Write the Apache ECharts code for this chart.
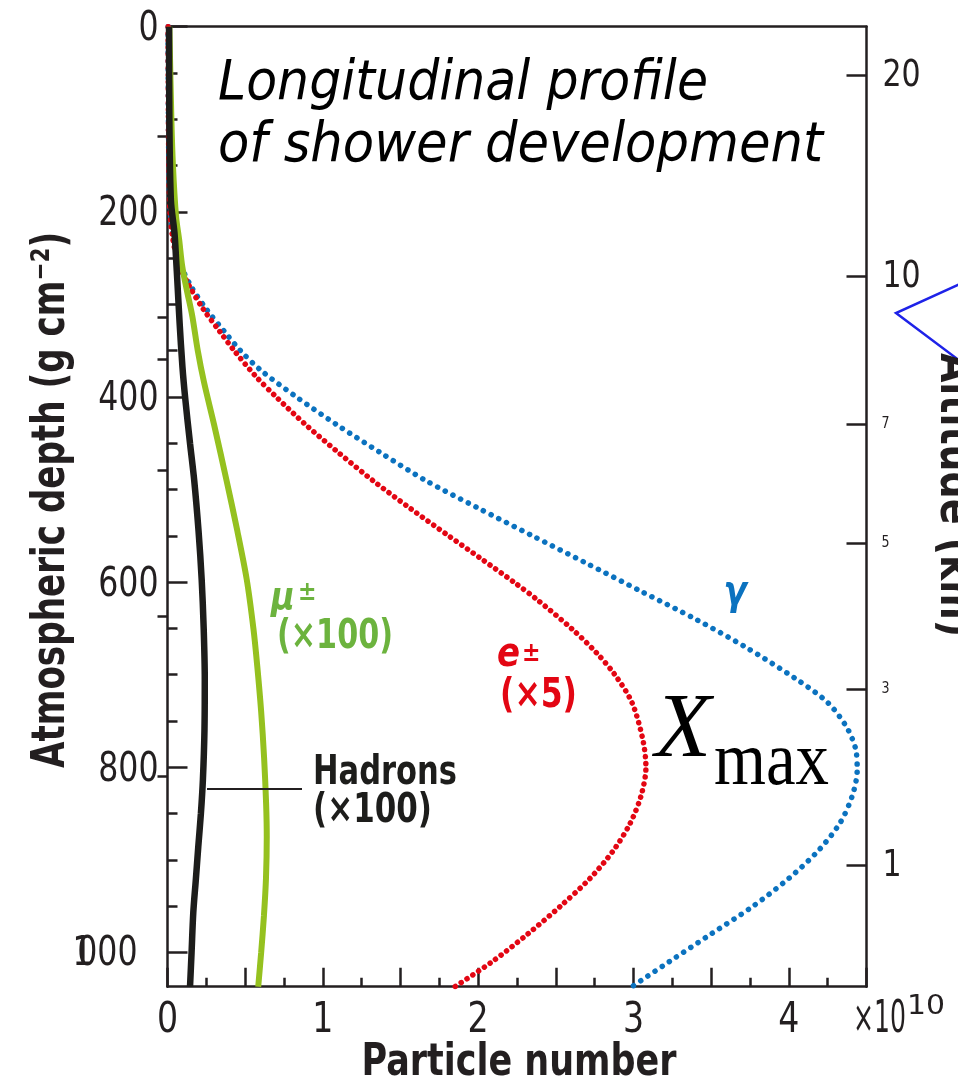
<!DOCTYPE html>
<html><head><meta charset="utf-8">
<script src="https://cdn.jsdelivr.net/npm/echarts@6/dist/echarts.min.js"></script>
<style>html,body{margin:0;padding:0;background:#fff}#c{width:958px;height:1086px}</style>
</head><body><div id="c"></div>
<script>
// ---------------- data (particle number in units of 1e10, depth in g cm^-2) ----------------
const gammaDepth = [0, 100, 150, 200, 230, 255, 280, 305, 330, 350, 371, 400, 430, 460, 490, 520, 550, 579, 610, 640, 670, 705, 730, 756, 780, 803, 830, 860, 890, 920, 950, 980, 1010, 1037];
const gammaCount = [0.004, 0.006, 0.009, 0.018, 0.04, 0.08, 0.15, 0.25, 0.37, 0.47, 0.60, 0.83, 1.09, 1.37, 1.66, 2.00, 2.35, 2.69, 3.05, 3.40, 3.72, 4.05, 4.25, 4.37, 4.43, 4.44, 4.41, 4.33, 4.19, 4.00, 3.77, 3.50, 3.23, 2.99];

const electronDepth = [0, 100, 150, 200, 230, 255, 280, 305, 330, 350, 378, 400, 430, 460, 490, 520, 550, 576, 600, 619, 650, 676, 700, 730, 770, 800, 830, 860, 890, 920, 950, 980, 1010, 1037];
const electronCount = [0.004, 0.006, 0.009, 0.016, 0.035, 0.07, 0.14, 0.23, 0.34, 0.43, 0.57, 0.70, 0.89, 1.10, 1.32, 1.56, 1.81, 2.03, 2.23, 2.38, 2.60, 2.76, 2.88, 2.99, 3.06, 3.08, 3.05, 2.98, 2.87, 2.72, 2.53, 2.32, 2.09, 1.85];

const muonDepth = [0, 100, 150, 205, 230, 259, 285, 313, 350, 384, 430, 490, 545, 597, 650, 691, 740, 790, 840, 875, 920, 960, 1000, 1037];
const muonCount = [0.012, 0.025, 0.035, 0.055, 0.075, 0.095, 0.125, 0.16, 0.195, 0.235, 0.30, 0.38, 0.45, 0.51, 0.553, 0.578, 0.603, 0.622, 0.635, 0.639, 0.634, 0.621, 0.603, 0.584];

const hadronDepth = [0, 100, 188, 223, 250, 277, 320, 367, 403, 450, 490, 545, 597, 650, 705, 760, 813, 850, 886, 920, 957, 1000, 1037];
const hadronCount = [0.01, 0.012, 0.022, 0.045, 0.055, 0.064, 0.078, 0.096, 0.115, 0.145, 0.172, 0.200, 0.220, 0.233, 0.240, 0.238, 0.228, 0.215, 0.198, 0.183, 0.166, 0.155, 0.145];

const depthTicks = [0, 200, 400, 600, 800, 1000];
const depthTickLabels = ['0', '200', '400', '600', '800', '1000'];
const depthMinorTicks = [50, 100, 150, 250, 300, 350, 450, 500, 550, 650, 700, 750, 850, 900, 950];
const countTicks = [0, 1, 2, 3, 4];
const countTickLabels = ['0', '1', '2', '3', '4'];
const altitudeLargeLabels = ['20', '10', '1'];
const altitudeLargeDepth = [52.2, 269.2, 905.3];
const altitudeSmallLabels = ['7', '5', '3'];
const altitudeSmallDepth = [429.0, 558.0, 715.6];
const altitudeMinorDepth = [118.0, 313.8, 359.2, 479.0, 637.1, 809.9];
const DEPTH_MAX = 1037;
const COUNT_MAX = 4.5;

// ---------------- helpers ----------------
const zip = (d, v) => d.map((y, i) => [v[i], y]);
const SANS = '"DejaVu Sans", "Verdana", sans-serif';
const SERIF = '"Liberation Serif", "Times New Roman", serif';
const AXIS = '#231f20';
const mctx = document.createElement('canvas').getContext('2d');
function fit(text, font, width) { mctx.font = font; return width / mctx.measureText(text).width; }
function txt(text, font, x, y, fill, opts) {
  opts = opts || {};
  const align = opts.align || 'left', va = opts.va || 'middle';
  return {
    type: 'text', x: x, y: y, z: 100,
    rotation: opts.rotation || 0,
    scaleX: opts.width ? fit(text, font, opts.width) : (opts.scaleX || 1),
    style: { text: text, font: font, fill: fill, align: align, textAlign: align, verticalAlign: va, textVerticalAlign: va }
  };
}
const SQ = 0.79; // horizontal squeeze of the figure's lettering

const lineAxisStyle = { color: AXIS, width: 2.5 };

function labelSeries(data, render) {
  return { type: 'custom', coordinateSystem: 'cartesian2d', xAxisIndex: 0, yAxisIndex: 0, data: data, renderItem: render, silent: true, clip: false, z: 20 };
}
function tickText(text, font, x, y, align) {
  return { type: 'text', x: x, y: y, scaleX: SQ, style: { text: text, font: font, fill: AXIS, align: align, textAlign: align, verticalAlign: 'middle', textVerticalAlign: 'middle' } };
}

const chart = echarts.init(document.getElementById('c'), null, { renderer: 'canvas' });

const curve = { type: 'line', showSymbol: false, smooth: 0.3 };

const option = {
  backgroundColor: '#ffffff',
  animation: false,
  grid: { left: 167.5, top: 26.7, right: 91.5, bottom: 99.3 },
  xAxis: [
    { type: 'value', min: 0, max: COUNT_MAX, interval: 0.5, position: 'bottom',
      axisLine: { show: true, onZero: false, lineStyle: lineAxisStyle },
      axisTick: { show: true, inside: true, length: 19, lineStyle: lineAxisStyle },
      minorTick: { show: true, splitNumber: 2, length: 9, lineStyle: lineAxisStyle },
      axisLabel: { show: false }, splitLine: { show: false } },
    { type: 'value', min: 0, max: COUNT_MAX, position: 'top',
      axisLine: { show: true, onZero: false, lineStyle: lineAxisStyle },
      axisTick: { show: false }, axisLabel: { show: false }, splitLine: { show: false } }
  ],
  yAxis: [
    { type: 'value', inverse: true, min: 0, max: DEPTH_MAX, position: 'left',
      axisLine: { show: true, onZero: false, lineStyle: lineAxisStyle },
      axisTick: { show: true, inside: true, length: 20, customValues: depthTicks, lineStyle: lineAxisStyle },
      axisLabel: { show: false }, splitLine: { show: false } },
    { type: 'value', inverse: true, min: 0, max: DEPTH_MAX, position: 'left',
      axisLine: { show: false },
      axisTick: { show: true, inside: true, length: 10, customValues: depthMinorTicks, lineStyle: lineAxisStyle },
      axisLabel: { show: false }, splitLine: { show: false } },
    { type: 'value', inverse: true, min: 0, max: DEPTH_MAX, position: 'right',
      axisLine: { show: true, onZero: false, lineStyle: lineAxisStyle },
      axisTick: { show: true, inside: true, length: 20, customValues: altitudeLargeDepth.concat(altitudeSmallDepth), lineStyle: lineAxisStyle },
      axisLabel: { show: false }, splitLine: { show: false } },
    { type: 'value', inverse: true, min: 0, max: DEPTH_MAX, position: 'right',
      axisLine: { show: false },
      axisTick: { show: true, inside: true, length: 10, customValues: altitudeMinorDepth, lineStyle: lineAxisStyle },
      axisLabel: { show: false }, splitLine: { show: false } }
  ],
  series: [
    Object.assign({ name: 'gamma', data: zip(gammaDepth, gammaCount), z: 3,
      lineStyle: { color: '#0b72bf', width: 5.5, type: [0.1, 8.5], cap: 'round' } }, curve),
    Object.assign({ name: 'electrons', data: zip(electronDepth, electronCount), z: 4,
      lineStyle: { color: '#e30613', width: 5.5, type: [0.1, 6.8], cap: 'round' } }, curve),
    Object.assign({ name: 'muons', data: zip(muonDepth, muonCount), z: 5,
      lineStyle: { color: '#95c11f', width: 6 } }, curve),
    Object.assign({ name: 'hadrons', data: zip(hadronDepth, hadronCount), z: 6,
      lineStyle: { color: '#1d1d1b', width: 6.5 } }, curve),
    // left tick labels
    labelSeries(depthTicks.map(d => [0, d]), function (params, api) {
      const p = api.coord([0, api.value(1)]);
      const t = depthTickLabels[params.dataIndex];
      const font = '40px ' + SANS;
      if (t.length > 3) {
        return { type: 'group', children: [
          tickText(t.slice(1), font, p[0] - 30, p[1] + 2, 'right'),
          tickText(t.slice(0, 1), font, p[0] - 95, p[1] + 2, 'left')
        ] };
      }
      return tickText(t, font, p[0] - 9, p[1] + 3, 'right');
    }),
    // bottom tick labels
    labelSeries(countTicks.map(v => [v, DEPTH_MAX]), function (params, api) {
      const p = api.coord([api.value(0), DEPTH_MAX]);
      return tickText(countTickLabels[params.dataIndex], '42px ' + SANS, p[0], p[1] + 34, 'center');
    }),
    // right (altitude) labels
    labelSeries(altitudeLargeDepth.map(d => [COUNT_MAX, d]), function (params, api) {
      const p = api.coord([COUNT_MAX, api.value(1)]);
      return tickText(altitudeLargeLabels[params.dataIndex], '38px ' + SANS, p[0] + 16, p[1] + 1, 'left');
    }),
    labelSeries(altitudeSmallDepth.map(d => [COUNT_MAX, d]), function (params, api) {
      const p = api.coord([COUNT_MAX, api.value(1)]);
      return tickText(altitudeSmallLabels[params.dataIndex], '16px ' + SANS, p[0] + 15, p[1], 'left');
    })
  ],
  graphic: [
    txt('Longitudinal profile', 'italic 56px ' + SANS, 218, 84, '#000', { width: 490 }),
    txt('of shower development', 'italic 56px ' + SANS, 218, 146, '#000', { width: 605 }),
    txt('Atmospheric depth (g cm\u207B\u00B2)', 'bold 46px ' + SANS, 52, 500, AXIS, { align: 'center', rotation: Math.PI / 2, width: 536 }),
    txt('Particle number', 'bold 44px ' + SANS, 519, 1064, AXIS, { align: 'center', width: 315 }),
    txt('\u00D710', '44px ' + SANS, 853, 1021, AXIS, { width: 53 }),
    txt('10', '27px ' + SANS, 907, 1007, AXIS, { width: 38 }),
    // particle labels
    txt('\u03B3', 'bold italic 40px ' + SANS, 735, 594, '#0b72bf', { align: 'center', scaleX: 0.85 }),
    txt('\u03BC', 'bold italic 38px ' + SANS, 271, 599, '#6cb33e', { scaleX: 0.85 }),
    txt('\u00B1', 'bold 26px ' + SANS, 298, 593, '#6cb33e', { scaleX: 0.85 }),
    txt('(\u00D7100)', 'bold 40px ' + SANS, 277, 638, '#6cb33e', { width: 116 }),
    txt('e', 'bold italic 40px ' + SANS, 497, 656, '#e30613', { scaleX: 0.85 }),
    txt('\u00B1', 'bold 26px ' + SANS, 522, 654, '#e30613', { scaleX: 0.85 }),
    txt('(\u00D75)', 'bold 40px ' + SANS, 500, 697, '#e30613', { width: 77 }),
    txt('Hadrons', 'bold 41px ' + SANS, 313, 773, '#1d1d1b', { width: 144 }),
    txt('(\u00D7100)', 'bold 40px ' + SANS, 313, 812, '#1d1d1b', { width: 119 }),
    { type: 'line', z: 100, shape: { x1: 207, y1: 789, x2: 302, y2: 789 }, style: { stroke: AXIS, lineWidth: 2 } },
    txt('X', 'italic 92px ' + SERIF, 655, 732, '#000', {}),
    txt('max', '76px ' + SERIF, 714, 764, '#000', { width: 115 }),
    // cut-off decorations at right edge
    { type: 'polyline', z: 100, shape: { points: [[960, 284], [896, 313], [960, 361]] }, style: { stroke: '#1e22e8', lineWidth: 2.5, fill: null } },
    txt('Altitude (km)', 'bold 48px ' + SANS, 929, 495, AXIS, { align: 'center', va: 'bottom', rotation: -Math.PI / 2, width: 284 })
  ]
};
chart.setOption(option);
</script></body></html>
